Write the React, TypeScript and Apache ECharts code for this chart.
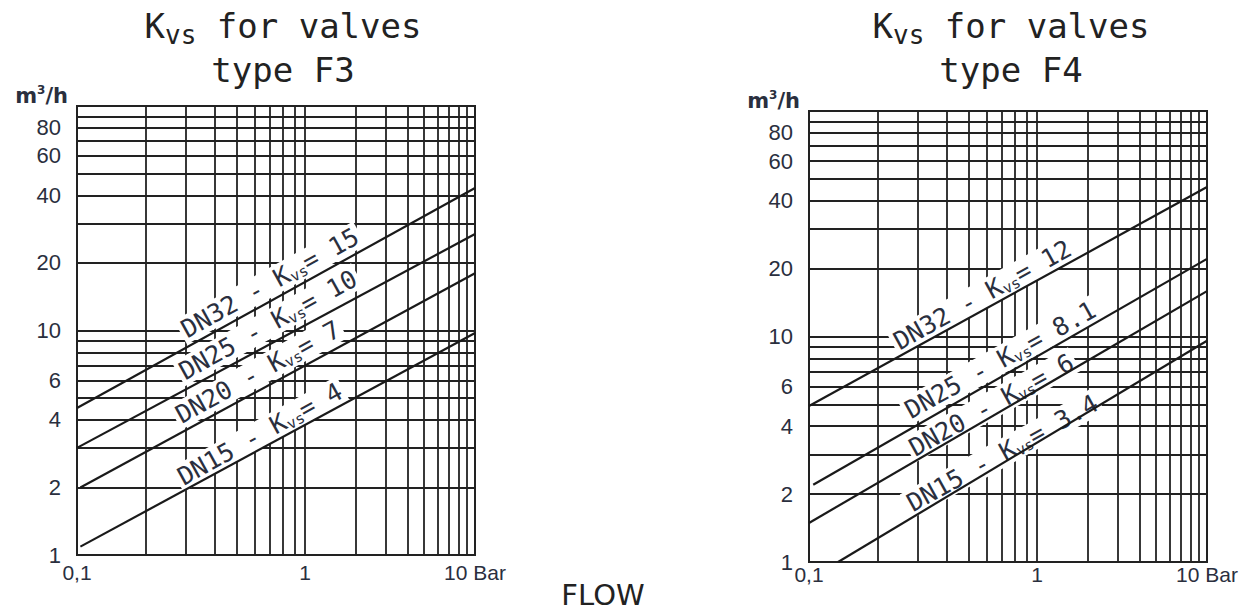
import React, { useEffect, useRef } from 'react';
import * as echarts from 'echarts';

// ---------------- data ----------------
const PRESSURE_TICKS = [0.1, 1, 10];
const PRESSURE_TICK_LABELS = ['0,1', '1', '10 Bar'];
const FLOW_TICKS = [1, 2, 4, 6, 10, 20, 40, 60, 80];
const FLOW_GRID = [2, 3, 4, 5, 6, 7, 8, 9, 10, 20, 30, 40, 50, 60, 70, 80, 90];
const PRESSURE_GRID_LOW = [0.2, 0.3, 0.4, 0.5, 0.6, 0.7, 0.8, 0.9, 1];
const PRESSURE_GRID_HIGH = [2, 3, 4, 5, 6, 7, 8, 9];

const VALVE_SIZES = ['DN32', 'DN25', 'DN20', 'DN15'];

// type F3 : line ends [pressure (bar), flow (m3/h)]
const F3_KVS = ['15', '10', '7', '4'];
const F3_START = [[0.1, 4.52], [0.1, 3.0], [0.104, 2.0], [0.104, 1.09]];
const F3_END = [[10, 43.1], [10, 26.9], [10, 18.0], [10, 9.75]];
const F3_LABEL_AT = [[0.933, 16.3], [0.912, 10.6], [0.812, 6.53], [0.83, 3.46]];

// type F4
const F4_KVS = ['12', '8.1', '6', '3.4'];
const F4_START = [[0.1, 4.92], [0.105, 2.2], [0.1, 1.49], [0.14, 1.0]];
const F4_END = [[10, 46.0], [10, 22.1], [10, 15.9], [10, 9.58]];
const F4_LABEL_AT = [[0.744, 15.3], [0.916, 7.87], [0.826, 4.97], [0.938, 3.04]];

// ---------------- style / layout ----------------
const SANS = '"Liberation Sans", Arial, sans-serif';
const MONO = '"DejaVu Sans Mono", monospace';
const DEJAVU = '"DejaVu Sans", sans-serif';
const TITLE_COLOR = '#222222';
const TEXT_COLOR = '#2a2f3e';
const GRID_COLOR = '#222222';
const CURVE_COLOR = '#1a1a1a';

const PANELS = [
  {
    type: 'F3', kvs: F3_KVS, start: F3_START, end: F3_END, labelAt: F3_LABEL_AT,
    left: 77, split: 305, right: 475, top: 106, bottom: 555, titleX: 283, xLabelMargin: 7,
  },
  {
    type: 'F4', kvs: F4_KVS, start: F4_START, end: F4_END, labelAt: F4_LABEL_AT,
    left: 809, split: 1037, right: 1207, top: 111, bottom: 562, titleX: 1011, xLabelMargin: 2,
  },
];

function pressureLabel(lo: number, hi: number) {
  return (v: number) => {
    const i = PRESSURE_TICKS.findIndex((t) => Math.abs(Math.log10(t) - Math.log10(v)) < 1e-6);
    if (i < 0) return '';
    const t = PRESSURE_TICKS[i];
    return t >= lo && t <= hi ? PRESSURE_TICK_LABELS[i] : '';
  };
}

function buildOption() {
  const grid: any[] = [];
  const xAxis: any[] = [];
  const yAxis: any[] = [];
  const series: any[] = [];
  const graphic: any[] = [];

  PANELS.forEach((p, pi) => {
    const h = p.bottom - p.top;
    const base = pi * 3;
    grid.push({ left: p.left, top: p.top, width: p.split - p.left, height: h, show: false });
    grid.push({ left: p.split, top: p.top, width: p.right - p.split, height: h, show: false });
    grid.push({
      left: p.left, top: p.top, width: p.right - p.left, height: h,
      show: true, borderColor: GRID_COLOR, borderWidth: 2, backgroundColor: 'transparent',
    });

    const labelBase = {
      show: true, fontSize: 21, fontFamily: SANS, color: TEXT_COLOR,
      margin: p.xLabelMargin, showMinLabel: true, showMaxLabel: true,
    };
    const hiddenParts = { axisLine: { show: false }, axisTick: { show: false }, splitLine: { show: false } };
    xAxis.push({ type: 'log', logBase: 10, gridIndex: base, min: 0.1, max: 1, ...hiddenParts,
      axisLabel: { ...labelBase, formatter: pressureLabel(0.1, 0.1) } });
    xAxis.push({ type: 'log', logBase: 10, gridIndex: base + 1, min: 1, max: 10, ...hiddenParts,
      axisLabel: { ...labelBase, formatter: pressureLabel(1, 10) } });
    xAxis.push({ type: 'log', logBase: 10, gridIndex: base + 2, min: 0.1, max: 10, show: false });
    for (let k = 0; k < 3; k++) {
      yAxis.push({ type: 'log', logBase: 10, gridIndex: base + k, min: 1, max: 100, show: false });
    }

    const markBase = {
      silent: true, symbol: ['none', 'none'], animation: false, z: 1,
      lineStyle: { type: 'solid', color: GRID_COLOR, width: 1.8 },
      label: { show: false }, emphasis: { disabled: true },
    };
    // vertical grid lines, first decade
    series.push({
      type: 'line', xAxisIndex: base, yAxisIndex: base, data: [[0.1, 1]], symbol: 'none',
      lineStyle: { width: 0 }, z: 1, silent: true,
      markLine: { ...markBase, data: PRESSURE_GRID_LOW.map((v) => ({ xAxis: v })) },
    });
    // vertical grid lines, second decade
    series.push({
      type: 'line', xAxisIndex: base + 1, yAxisIndex: base + 1, data: [[1, 1]], symbol: 'none',
      lineStyle: { width: 0 }, z: 1, silent: true,
      markLine: { ...markBase, data: PRESSURE_GRID_HIGH.map((v) => ({ xAxis: v })) },
    });
    // horizontal grid lines with flow tick labels
    series.push({
      type: 'line', xAxisIndex: base + 2, yAxisIndex: base + 2, data: [[0.1, 1]], symbol: 'none',
      lineStyle: { width: 0 }, z: 1, silent: true,
      markLine: {
        ...markBase,
        data: [1, ...FLOW_GRID].map((v) => ({
          yAxis: v,
          label: FLOW_TICKS.includes(v)
            ? { show: true, position: 'start', distance: 16, formatter: String(v),
                fontSize: 22, fontFamily: SANS, color: TEXT_COLOR }
            : { show: false },
        })),
      },
    });
    // rotated labels along the lines
    series.push({
      type: 'scatter', xAxisIndex: base + 2, yAxisIndex: base + 2, z: 3, silent: true,
      symbolSize: 1, itemStyle: { color: 'rgba(0,0,0,0)', opacity: 1 },
      emphasis: { disabled: true },
      data: p.labelAt.map((pt, i) => ({ value: pt, name: VALVE_SIZES[i] })),
      label: {
        show: true, position: 'inside', rotate: 29, opacity: 1,
        backgroundColor: '#ffffff', padding: [0, 3],
        formatter: (params: any) =>
          `{t|${VALVE_SIZES[params.dataIndex]} - K}{s|vs}{t|= ${p.kvs[params.dataIndex]}}`,
        rich: {
          t: { fontFamily: MONO, fontSize: 25, lineHeight: 27, color: TEXT_COLOR },
          s: { fontFamily: MONO, fontSize: 15, lineHeight: 11, verticalAlign: 'bottom', color: TEXT_COLOR },
        },
      },
    });
    // the Kvs lines
    VALVE_SIZES.forEach((name, i) => {
      series.push({
        type: 'line', name: `${name} ${p.type}`, xAxisIndex: base + 2, yAxisIndex: base + 2,
        z: 4, silent: true, symbol: 'none', data: [p.start[i], p.end[i]],
        lineStyle: { color: CURVE_COLOR, width: 2.2 },
      });
    });

    // titles and unit
    graphic.push({
      type: 'text', x: p.titleX, y: 4, z: 10,
      style: {
        text: '{a|K}{b|vs}{a| for valves}', align: 'center', verticalAlign: 'top', fill: TITLE_COLOR,
        rich: {
          a: { fontFamily: MONO, fontSize: 34, lineHeight: 44, fill: TITLE_COLOR },
          b: { fontFamily: MONO, fontSize: 26, lineHeight: 37, verticalAlign: 'bottom', fill: TITLE_COLOR },
        },
      },
    });
    graphic.push({
      type: 'text', x: p.titleX, y: 48, z: 10,
      style: {
        text: `type ${p.type}`, align: 'center', verticalAlign: 'top', fill: TITLE_COLOR,
        fontFamily: MONO, fontSize: 34, lineHeight: 44,
      },
    });
    graphic.push({
      type: 'text', x: p.left - 9, y: p.top - 22, z: 10,
      style: {
        text: '{m|m}{p|3}{m|/h}', align: 'right', verticalAlign: 'top', fill: TEXT_COLOR,
        rich: {
          m: { fontFamily: DEJAVU, fontWeight: 'bold', fontSize: 21, lineHeight: 24, fill: TEXT_COLOR },
          p: { fontFamily: DEJAVU, fontWeight: 'bold', fontSize: 12, lineHeight: 12, verticalAlign: 'top', fill: TEXT_COLOR },
        },
      },
    });
  });

  graphic.push({
    type: 'text', x: 603, y: 580, z: 10,
    style: { text: 'FLOW', align: 'center', verticalAlign: 'top', fill: TITLE_COLOR, fontFamily: DEJAVU, fontSize: 29, lineHeight: 30 },
  });

  return {
    animation: false,
    backgroundColor: '#ffffff',
    grid, xAxis, yAxis, series, graphic,
  };
}

export default function App() {
  const ref = useRef<HTMLDivElement>(null);
  useEffect(() => {
    if (!ref.current) return;
    const chart = echarts.init(ref.current, null, { renderer: 'svg' });
    chart.setOption(buildOption() as any);
    return () => chart.dispose();
  }, []);
  return (
    <div
      ref={ref}
      style={{ position: 'fixed', left: 0, top: 0, width: 1260, height: 612, background: '#fff' }}
    />
  );
}
